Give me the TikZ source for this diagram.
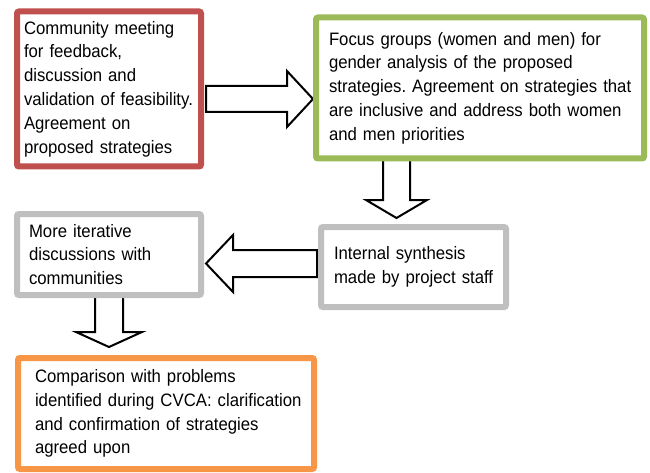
\documentclass[tikz,border=0pt]{standalone}
\usepackage{fontspec}
\setmainfont{Liberation Sans}[FakeStretch=0.93,WordSpace=0.85]
\usetikzlibrary{calc,backgrounds}
\definecolor{cred}{HTML}{C0504D}
\definecolor{cgreen}{HTML}{9BBB59}
\definecolor{cgray}{HTML}{BFBFBF}
\definecolor{corange}{HTML}{F79646}
\frenchspacing
\begin{document}
\begin{tikzpicture}[x=1pt,y=-1pt,
  box/.style={draw, line width=6pt, rounded corners=2pt, fill=white, align=left,
    inner ysep=2pt, font=\fontsize{18}{23.8}\selectfont},
  barrow/.style={draw=black, line width=2pt, fill=white, line join=miter}]
\useasboundingbox (0,0) rectangle (650,473);
\node[box, draw=cred, minimum width=184pt, minimum height=155pt, inner xsep=7pt, text width=170pt] (b1) at (109,89)
  {\mbox{Community meeting}\\\mbox{for feedback,}\\\mbox{discussion and}\\\mbox{validation of feasibility.}\\\mbox{Agreement on}\\\mbox{proposed strategies}};
\node[box, draw=cgreen, minimum width=328pt, minimum height=141pt, inner xsep=13pt, text width=302pt] (b2) at (480,88)
  {\mbox{Focus groups (women and men) for}\\\mbox{gender analysis of the proposed}\\\mbox{strategies. Agreement on strategies that}\\\mbox{are inclusive and address both women}\\\mbox{and men priorities}};
\node[box, draw=cgray, minimum width=185pt, minimum height=80pt, inner xsep=13pt, text width=159pt] (b3) at (413.5,267)
  {\mbox{Internal synthesis}\\\mbox{made by project staff}};
\node[box, draw=cgray, minimum width=184pt, minimum height=81pt, inner xsep=12pt, text width=160pt] (b4) at (109,254.5)
  {\mbox{More iterative}\\\mbox{discussions with}\\\mbox{communities}};
\node[box, draw=corange, minimum width=296pt, minimum height=111pt, inner xsep=17pt, text width=262pt] (b5) at (166,413.5)
  {\mbox{Comparison with problems}\\\mbox{identified during CVCA: clarification}\\\mbox{and confirmation of strategies}\\\mbox{agreed upon}};
\begin{scope}[on background layer]
  % b1 -> b2
  \coordinate (r0) at ([xshift=2pt]b1.east |- 0,99);
  \coordinate (r1) at (b2.west |- 0,99);
  \draw[barrow] ($(r0)+(0,-13)$) -- ($(r1)+(-26,-13)$) -- ($(r1)+(-26,-28)$) -- (r1)
    -- ($(r1)+(-26,28)$) -- ($(r1)+(-26,13)$) -- ($(r0)+(0,13)$) -- cycle;
  % b2 -> b3
  \coordinate (d0) at ([yshift=4pt]396.5,0 |- b2.south);
  \coordinate (d1) at ([yshift=6pt]396.5,0 |- b3.north);
  \draw[barrow] ($(d0)+(-13.5,0)$) -- ($(d1)+(-13.5,-18)$) -- ($(d1)+(-30.5,-18)$) -- (d1)
    -- ($(d1)+(30.5,-18)$) -- ($(d1)+(13.5,-18)$) -- ($(d0)+(13.5,0)$) -- cycle;
  % b3 -> b4
  \coordinate (l0) at ([xshift=-1pt]b3.west |- 0,263.5);
  \coordinate (l1) at ([xshift=2pt]b4.east |- 0,263.5);
  \draw[barrow] ($(l0)+(0,-13.5)$) -- ($(l1)+(27,-13.5)$) -- ($(l1)+(27,-28.5)$) -- (l1)
    -- ($(l1)+(27,28.5)$) -- ($(l1)+(27,13.5)$) -- ($(l0)+(0,13.5)$) -- cycle;
  % b4 -> b5
  \coordinate (e0) at ([yshift=3pt]b4.south);
  \coordinate (e1) at ([yshift=8pt]b4.south |- b5.north);
  \draw[barrow] ($(e0)+(-14,0)$) -- ($(e1)+(-14,-15)$) -- ($(e1)+(-33,-15)$) -- (e1)
    -- ($(e1)+(33,-15)$) -- ($(e1)+(14,-15)$) -- ($(e0)+(14,0)$) -- cycle;
\end{scope}
\end{tikzpicture}
\end{document}
